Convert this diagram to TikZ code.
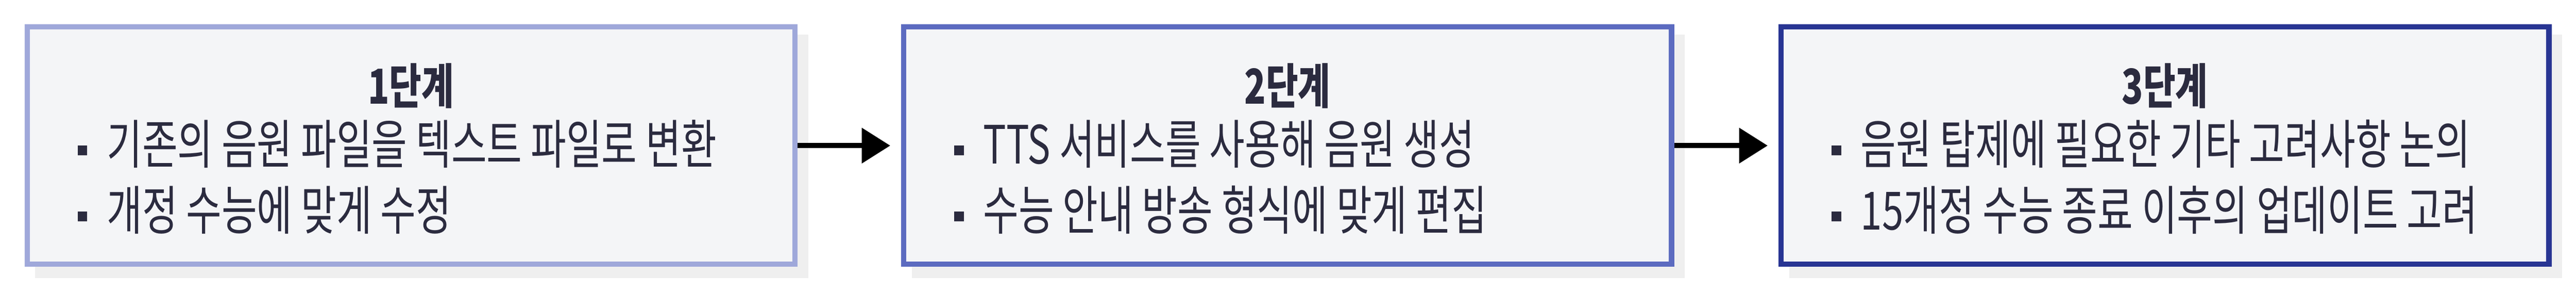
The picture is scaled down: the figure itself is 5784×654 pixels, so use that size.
\documentclass[tikz,border=0pt]{standalone}
\usepackage{fontspec}
\usetikzlibrary{arrows.meta}
\newfontfamily\krfont[FakeStretch=0.73]{Noto Sans CJK KR}
\definecolor{stepone}{HTML}{9FA8DA}
\definecolor{steptwo}{HTML}{5C6BC0}
\definecolor{stepthree}{HTML}{283593}
\definecolor{boxfill}{HTML}{F4F5F7}
\definecolor{shadowgray}{HTML}{EFEFEF}
\definecolor{ink}{HTML}{2B2B3F}
\newcommand{\sqbul}{\rule[4.75pt]{5.25pt}{5.5pt}\hspace{11pt}}
\tikzset{
  stepbox/.style={draw=#1, line width=3pt, fill=boxfill, minimum width=431pt, minimum height=133pt, inner sep=0pt},
  steptitle/.style={font=\krfont\bfseries\fontsize{27}{30}\selectfont, text=ink, inner sep=0pt},
  stepitem/.style={font=\krfont\fontsize{29.6}{34}\selectfont, text=ink, anchor=base west, inner sep=0pt},
  flow/.style={line width=3pt, -{Triangle[length=16pt,width=19.25pt]}, shorten >=6pt},
}
\begin{document}
\begin{tikzpicture}[x=0.25pt,y=0.25pt,yscale=-1,xscale=1]
    \fill[white] (0,0) rectangle (5784,654);
    \useasboundingbox (0,0) rectangle (5784,654);

    %Shadows
    \fill[shadowgray] (79,78) rectangle (1815,623);
    \fill[shadowgray] (2047,78) rectangle (3783,623);
    \fill[shadowgray] (4017,78) rectangle (5753,623);

    %Boxes
    \node[stepbox=stepone] (s1) at (923,326.5) {};
    \node[stepbox=steptwo] (s2) at (2891,326.5) {};
    \node[stepbox=stepthree] (s3) at (4861,326.5) {};

    %Arrows
    \draw[flow] (s1.east) -- (s2.west);
    \draw[flow] (s2.east) -- (s3.west);

    % Text Node
    \node[steptitle] (t1) at (923,193) {1단계};
    \node[stepitem] (s1a) at (174,367) {\sqbul 기존의 음원 파일을 텍스트 파일로 변환};
    \node[stepitem] (s1b) at (174,515) {\sqbul 개정 수능에 맞게 수정};
    % Text Node
    \node[steptitle] (t2) at (2891,193) {2단계};
    \node[stepitem] (s2a) at (2142,367) {\sqbul TTS 서비스를 사용해 음원 생성};
    \node[stepitem] (s2b) at (2142,515) {\sqbul 수능 안내 방송 형식에 맞게 편집};
    % Text Node
    \node[steptitle] (t3) at (4861,193) {3단계};
    \node[stepitem] (s3a) at (4112,367) {\sqbul 음원 탑제에 필요한 기타 고려사항 논의};
    \node[stepitem] (s3b) at (4112,515) {\sqbul 15개정 수능 종료 이후의 업데이트 고려};
\end{tikzpicture}
\end{document}
